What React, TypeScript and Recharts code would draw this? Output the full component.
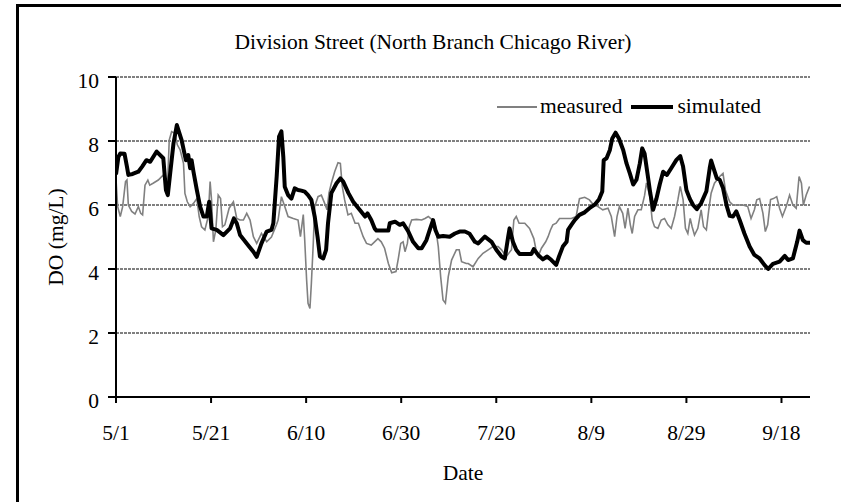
import React from "react";
import { LineChart, Line, XAxis, YAxis, CartesianGrid, Legend } from "recharts";

// x values are days counted from 5/1
const measuredDay = [
  0, 0.35, 0.9, 1.4, 2.0, 2.3, 2.6, 3.3, 4.0, 4.7, 5.2, 5.6, 6.1, 6.7, 7.1, 7.8, 8.9, 9.95, 10.5, 10.8,
  11.2, 11.7, 12.4, 12.9, 13.5, 14.2, 14.5, 15.0, 15.6, 16.3, 17.0, 17.5, 18.0, 18.7, 19.4, 19.8, 20.1, 20.5, 21.0, 21.5,
  22.0, 22.4, 22.9, 23.8, 24.7, 25.4, 26.1, 26.8, 27.5, 28.2, 28.9, 29.6, 30.6, 31.7, 32.7, 33.8, 34.1, 34.8, 35.5, 36.2,
  37.3, 38.3, 38.8, 39.4, 39.7, 40.1, 40.4, 40.8, 41.1, 41.5, 41.8, 42.5, 43.2, 43.9, 44.4, 44.8, 45.3, 46.0, 46.7, 47.2,
  47.6, 48.1, 48.8, 49.5, 50.3, 51.0, 52.0, 52.7, 53.7, 54.4, 55.1, 55.8, 56.5, 57.3, 58.0, 58.9, 59.4, 59.9, 60.4, 60.8,
  61.3, 61.7, 62.2, 63.2, 64.3, 65.0, 65.7, 66.4, 67.1, 67.8, 68.3, 68.8, 69.3, 69.9, 70.6, 71.6, 72.2, 72.7, 73.7, 74.1,
  75.1, 76.2, 77.2, 78.3, 79.3, 80.4, 81.1, 82.1, 83.2, 83.7, 84.2, 84.8, 86.0, 87.0, 87.9, 88.3, 88.8, 89.5, 90.4, 90.9,
  91.4, 91.9, 92.6, 93.3, 94.8, 95.8, 96.8, 97.5, 98.6, 99.6, 100.3, 101.4, 102.4, 103.5, 104.2, 104.9, 105.4, 105.9, 106.6, 107.1,
  107.7, 108.2, 108.6, 109.1, 109.8, 110.5, 111.2, 111.6, 112.3, 112.8, 113.3, 114.0, 114.7, 115.4, 116.1, 116.8, 117.5, 118.2, 118.7, 119.3,
  119.8, 120.3, 120.8, 121.2, 121.7, 122.4, 123.1, 123.6, 124.2, 124.7, 125.2, 125.9, 127.0, 127.7, 128.2, 129.1, 129.8, 130.8, 131.9, 132.9,
  133.6, 134.3, 134.8, 135.4, 136.1, 136.6, 137.1, 137.7, 138.3, 139.0, 139.6, 140.2, 141.0, 141.7, 142.4, 143.1, 143.7, 144.2, 144.6, 145.2,
  145.9,
];
const measuredDO = [
  6.8, 5.95, 5.64, 5.95, 6.73, 6.78, 6.0, 5.8, 5.72, 5.95, 5.74, 5.69, 6.62, 6.78, 6.62, 6.68, 6.78, 6.94, 6.73, 6.47,
  8.03, 8.29, 8.24, 7.88, 7.72, 7.3, 6.36, 6.1, 5.95, 6.05, 6.2, 5.64, 5.32, 5.22, 5.64, 6.73, 6.16, 4.85, 5.22, 6.31,
  6.2, 5.32, 5.38, 5.9, 6.1, 5.58, 5.53, 5.53, 5.74, 5.53, 5.01, 4.8, 5.11, 4.85, 5.0, 5.4, 5.53, 6.26, 5.95, 5.64,
  5.58, 5.53, 5.01, 5.7, 4.91, 3.66, 2.93, 2.77, 3.55, 4.8, 5.95, 6.26, 6.31, 6.05, 5.85, 6.37, 6.68, 7.04, 7.32, 7.3,
  6.58, 6.16, 5.69, 5.74, 5.43, 5.43, 5.01, 4.8, 4.75, 4.85, 4.95, 4.85, 4.65, 4.17, 3.88, 3.92, 4.33, 4.8, 4.85, 4.54,
  4.8, 5.32, 5.53, 5.55, 5.53, 5.58, 5.64, 5.55, 5.43, 4.7, 3.76, 3.03, 2.93, 3.76, 4.28, 4.6, 4.6, 4.23, 4.17, 4.17,
  4.07, 4.33, 4.49, 4.6, 4.7, 4.7, 4.6, 4.39, 4.6, 5.53, 5.64, 5.43, 5.43, 5.27, 4.95, 4.65, 4.39, 4.65, 4.85, 5.01,
  5.22, 5.38, 5.43, 5.58, 5.58, 5.58, 5.64, 6.2, 6.24, 6.16, 6.03, 5.95, 5.85, 5.9, 5.64, 5.01, 5.64, 5.95, 5.74, 5.27,
  5.9, 5.38, 5.11, 5.64, 5.85, 5.85, 6.3, 6.69, 6.27, 5.54, 5.32, 5.27, 5.53, 5.58, 5.38, 5.27, 5.64, 6.16, 6.58, 6.17,
  5.27, 5.11, 5.58, 5.32, 5.06, 5.27, 5.85, 5.32, 5.22, 5.85, 6.37, 6.68, 6.89, 6.99, 6.47, 6.1, 6.0, 6.0, 6.0, 5.95,
  5.58, 5.85, 6.16, 6.2, 5.74, 5.17, 5.38, 6.17, 6.2, 6.26, 5.9, 5.64, 5.95, 6.31, 6.0, 5.9, 6.89, 6.68, 6.0, 6.31,
  6.58,
];

const simulatedDay = [
  0, 0.5, 0.9, 1.8, 2.3, 2.6, 3.5, 4.7, 5.5, 6.4, 7.2, 8.55, 9.95, 10.5, 10.9, 11.4, 12.1, 12.8, 13.8, 14.7,
  15.2, 15.6, 15.9, 16.3, 17.0, 17.7, 18.4, 19.1, 19.6, 20.1, 21.2, 22.6, 24.0, 24.8, 25.4, 26.1, 27.5, 28.9, 29.6, 30.6,
  31.7, 32.7, 33.1, 33.8, 34.3, 34.8, 35.2, 35.5, 36.2, 36.9, 37.6, 38.3, 39.0, 39.7, 40.4, 41.1, 41.8, 42.4, 42.9, 43.6,
  44.2, 44.6, 45.3, 46.4, 47.2, 47.8, 48.9, 49.9, 51.3, 52.4, 52.9, 53.7, 54.4, 54.8, 57.3, 57.6, 58.7, 59.7, 60.4, 61.5,
  62.5, 63.6, 64.3, 65.3, 66.0, 66.7, 67.2, 67.8, 68.8, 70.2, 71.3, 72.3, 73.4, 74.4, 75.5, 76.2, 77.6, 79.0, 80.0, 81.1,
  81.8, 82.5, 82.8, 83.5, 84.2, 84.9, 87.4, 87.9, 88.8, 89.8, 90.7, 91.6, 92.6, 93.2, 94.0, 94.8, 95.1, 95.8, 96.5, 97.5,
  98.6, 99.6, 100.7, 101.6, 102.3, 102.6, 103.2, 103.9, 104.4, 105.1, 105.8, 106.7, 107.4, 108.1, 108.8, 109.5, 110.2, 110.7, 111.2, 111.8,
  112.4, 113.0, 113.7, 114.4, 115.1, 115.9, 116.8, 117.9, 118.7, 119.3, 120.0, 120.7, 121.4, 122.2, 123.1, 124.2, 124.9, 125.2, 125.7, 126.4,
  127.0, 127.7, 128.5, 129.1, 129.8, 130.5, 131.2, 132.2, 133.3, 134.3, 135.4, 136.4, 137.2, 138.2, 139.6, 140.7, 141.4, 142.4, 143.3, 143.8,
  144.5, 145.2, 146.0,
];
const simulatedDO = [
  6.95, 7.5, 7.61, 7.6, 7.2, 6.94, 6.97, 7.04, 7.2, 7.4, 7.35, 7.67, 7.46, 6.47, 6.31, 6.99, 7.93, 8.5, 8.03, 7.4,
  7.56, 7.15, 7.4, 7.04, 6.47, 5.95, 5.64, 5.64, 6.1, 5.27, 5.22, 5.06, 5.27, 5.58, 5.43, 5.06, 4.8, 4.54, 4.38, 4.8,
  5.17, 5.22, 5.43, 6.89, 8.14, 8.3, 7.5, 6.57, 6.31, 6.2, 6.52, 6.47, 6.45, 6.42, 6.31, 6.16, 5.64, 5.01, 4.39, 4.33,
  4.6, 5.43, 6.37, 6.68, 6.83, 6.73, 6.37, 6.1, 5.84, 5.64, 5.74, 5.53, 5.27, 5.2, 5.2, 5.43, 5.48, 5.38, 5.43, 5.17,
  4.85, 4.65, 4.65, 4.9, 5.22, 5.53, 5.22, 5.01, 5.03, 5.01, 5.11, 5.17, 5.17, 5.1, 4.85, 4.8, 5.01, 4.85, 4.6, 4.39,
  4.33, 5.01, 5.27, 4.85, 4.6, 4.47, 4.47, 4.62, 4.44, 4.3, 4.39, 4.28, 4.13, 4.39, 4.7, 4.85, 5.22, 5.38, 5.53, 5.69,
  5.77, 5.9, 6.01, 6.17, 6.42, 7.4, 7.46, 7.72, 8.08, 8.26, 8.08, 7.72, 7.3, 6.99, 6.64, 6.79, 7.3, 7.77, 7.61, 6.99,
  6.37, 5.85, 6.2, 6.65, 7.04, 6.94, 7.15, 7.41, 7.53, 7.2, 6.47, 6.2, 6.0, 5.87, 6.06, 6.43, 7.15, 7.39, 7.15, 6.83,
  6.79, 6.53, 5.96, 5.66, 5.64, 5.8, 5.53, 5.11, 4.7, 4.44, 4.33, 4.13, 4.0, 4.16, 4.23, 4.41, 4.28, 4.33, 4.85, 5.2,
  4.9, 4.82, 4.82,
];

const dayTicks = [0, 20, 40, 60, 80, 100, 120, 140];
const dateLabels = ["5/1", "5/21", "6/10", "6/30", "7/20", "8/9", "8/29", "9/18"];
const doTicks = [0, 2, 4, 6, 8, 10];

const measured = measuredDay.map((day, i) => ({ day, value: measuredDO[i] }));
const simulated = simulatedDay.map((day, i) => ({ day, value: simulatedDO[i] }));

const FONT = "'Liberation Serif', 'Times New Roman', serif";
const FONT_SIZE = 21.5;

const LegendContent = () => (
  <div
    style={{
      display: "flex",
      alignItems: "center",
      fontFamily: FONT,
      fontSize: FONT_SIZE,
      color: "#000",
      whiteSpace: "nowrap",
    }}
  >
    <span style={{ display: "inline-block", width: 40, height: 2, background: "#808080", marginRight: 3 }} />
    <span style={{ marginRight: 9 }}>measured</span>
    <span style={{ display: "inline-block", width: 42, height: 4, background: "#000", marginRight: 4 }} />
    <span>simulated</span>
  </div>
);

export default function App() {
  return (
    <div
      style={{
        position: "absolute",
        left: 0,
        top: 0,
        width: 841,
        height: 502,
        overflow: "hidden",
        background: "#fff",
        fontFamily: FONT,
      }}
    >
      {/* outer frame, cut off at right and bottom */}
      <div
        style={{
          position: "absolute",
          left: 16,
          top: 4,
          width: 900,
          height: 600,
          border: "3px solid #000",
        }}
      />
      <div
        style={{
          position: "absolute",
          left: 0,
          top: 30,
          width: 866,
          textAlign: "center",
          fontSize: FONT_SIZE,
          color: "#000",
        }}
      >
        Division Street (North Branch Chicago River)
      </div>
      <div style={{ position: "absolute", left: 0, top: 0 }}>
        <LineChart width={841} height={502} margin={{ top: 77, right: 31, bottom: 0, left: 0 }}>
          <CartesianGrid vertical={false} stroke="#000" strokeDasharray="3 1" strokeWidth={1} />
          <XAxis
            dataKey="day"
            type="number"
            domain={[0, 146]}
            ticks={dayTicks}
            allowDataOverflow
            height={105}
            tickFormatter={(v: number) => dateLabels[dayTicks.indexOf(v)]}
            axisLine={{ stroke: "#000", strokeWidth: 2 }}
            tickLine={{ stroke: "#000", strokeWidth: 2 }}
            tickSize={6}
            tickMargin={22}
            tick={{ fill: "#000", fontSize: FONT_SIZE, fontFamily: FONT }}
            label={{ value: "Date", position: "insideBottom", offset: 22, fill: "#000", fontSize: FONT_SIZE, fontFamily: FONT }}
          />
          <YAxis
            type="number"
            domain={[0, 10]}
            ticks={doTicks}
            width={116}
            axisLine={{ stroke: "#000", strokeWidth: 2 }}
            tickLine={{ stroke: "#000", strokeWidth: 2 }}
            tickSize={8}
            tickMargin={9}
            tick={{ fill: "#000", fontSize: FONT_SIZE, fontFamily: FONT, dy: 3 }}
            label={{
              value: "DO (mg/L)",
              angle: -90,
              position: "insideLeft",
              offset: 55,
              fill: "#000",
              fontSize: FONT_SIZE,
              fontFamily: FONT,
              style: { textAnchor: "middle" },
            }}
          />
          <Legend
            layout="vertical"
            align="center"
            verticalAlign="middle"
            content={<LegendContent />}
            wrapperStyle={{ left: 497, top: 94, width: "auto" }}
          />
          <Line
            data={measured}
            dataKey="value"
            name="measured"
            type="linear"
            stroke="#808080"
            strokeWidth={1.6}
            dot={false}
            isAnimationActive={false}
          />
          <Line
            data={simulated}
            dataKey="value"
            name="simulated"
            type="linear"
            stroke="#000"
            strokeWidth={4}
            strokeLinejoin="round"
            dot={false}
            isAnimationActive={false}
          />
        </LineChart>
      </div>
    </div>
  );
}
